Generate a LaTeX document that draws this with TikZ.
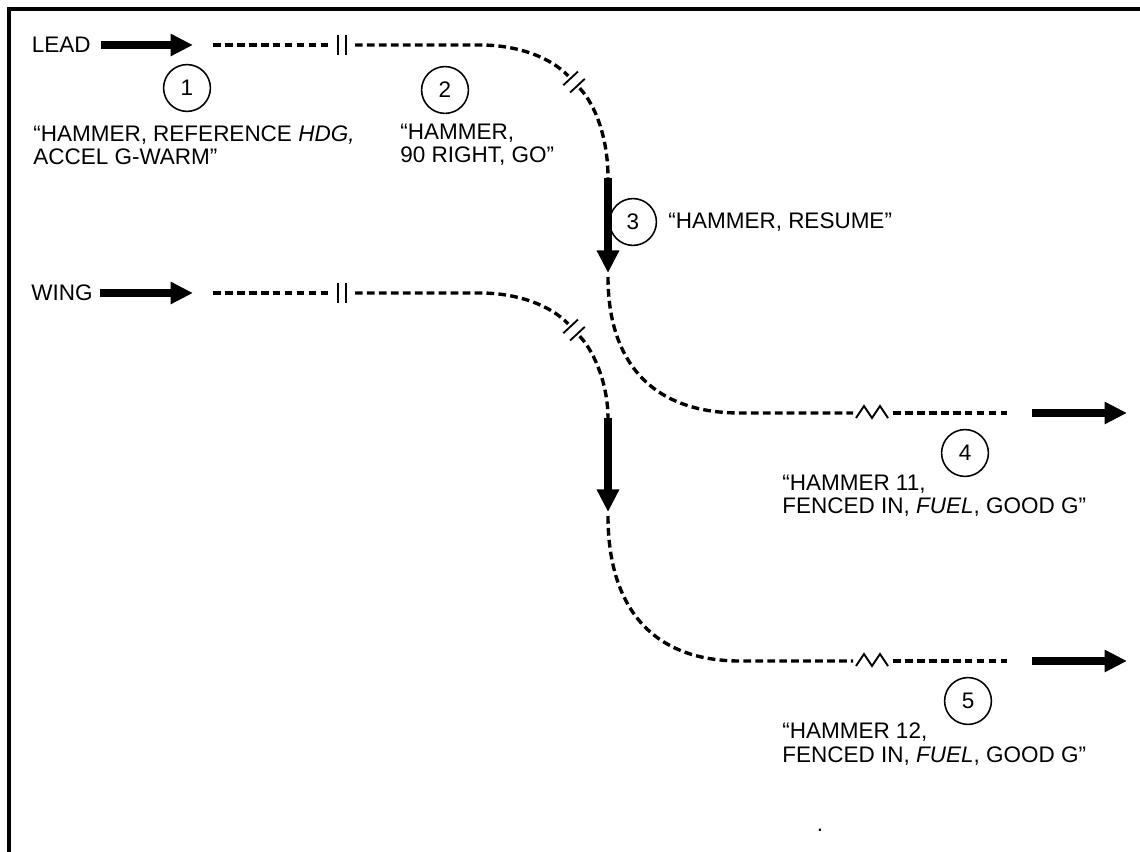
\documentclass[tikz,border=0pt]{standalone}
\usepackage{fontspec}
\setmainfont{Liberation Sans}
\usetikzlibrary{arrows.meta}

\begin{document}
\begin{tikzpicture}[
    x=0.025cm, y=-0.025cm,
    font=\fontsize{16}{16.5}\selectfont,
    flight/.style={inner sep=0pt},
    call/.style={circle, draw, line width=1.1pt, minimum size=1.17cm, inner sep=0pt},
    msg/.style={align=left, anchor=west, inner sep=0pt},
    fat/.style={-{Triangle[length=16pt,width=15pt]}, line width=5.5pt},
    track/.style={line width=2.4pt, dash pattern=on 5.5pt off 3pt},
    brk/.style={line width=1.3pt}
]
\useasboundingbox (0,0) rectangle (1140,852);

% frame (top and left only)
\draw[line width=3pt] (9,852) -- (9,9) -- (1140,9);

% Lead
\node[flight, anchor=east] (lead) at (91,45) {LEAD};
\coordinate (la) at (193,45);
\draw[fat, shorten <=7pt] (lead.east) -- (la);
\coordinate (ld1) at (213,45);
\coordinate (ld2) at (330,45);
\draw[track] (ld1) -- (ld2);
\draw[brk] (338,35) -- (338,55);
\draw[brk] (346,35) -- (346,55);
\coordinate (ld3) at (355,45);
\coordinate (ld4) at (480,45);
\coordinate (lm) at (574,82);
\coordinate (ld5) at (608,178);
\draw[track, shorten >=6pt] (ld3) -- (ld4) .. controls (520,45) and (552,58.75) .. (lm);
\draw[track, shorten <=6pt] (lm) .. controls (596,105.75) and (608,139) .. (ld5);
\draw[brk] (563.3,85.2) -- (577.9,71.6);
\draw[brk] (570.1,92.5) -- (584.7,78.9);
\coordinate (ld6) at (608,273);
\draw[fat] (ld5) -- (ld6);
\coordinate (ld7) at (608,277);
\coordinate (ld8) at (740,413);
\coordinate (ld9) at (853,413);
\draw[track] (ld7) .. controls (608,360) and (650,413) .. (ld8) -- (ld9);
\draw[brk] (856,418) -- (864,406) -- (872,418) -- (880,406) -- (888,418);
\coordinate (ld10) at (893,413);
\coordinate (ld11) at (1007,413);
\draw[track] (ld10) -- (ld11);
\coordinate (ld12) at (1032,413);
\coordinate (ld13) at (1127,413);
\draw[fat] (ld12) -- (ld13);

% Wing
\node[flight, anchor=east] (wing) at (93,293) {WING};
\coordinate (wa) at (193,293);
\draw[fat, shorten <=5pt] (wing.east) -- (wa);
\coordinate (wd1) at (213,293);
\coordinate (wd2) at (330,293);
\draw[track] (wd1) -- (wd2);
\draw[brk] (338,283) -- (338,303);
\draw[brk] (346,283) -- (346,303);
\coordinate (wd3) at (355,293);
\coordinate (wd4) at (480,293);
\coordinate (wm) at (574,330);
\coordinate (wd5) at (608,418);
\draw[track, shorten >=6pt] (wd3) -- (wd4) .. controls (520,293) and (552,306.75) .. (wm);
\draw[track, shorten <=6pt] (wm) .. controls (596,353.75) and (608,387) .. (wd5);
\draw[brk] (563.3,333.2) -- (577.9,319.6);
\draw[brk] (570.1,340.5) -- (584.7,326.9);
\coordinate (wd6) at (608,512);
\draw[fat] (wd5) -- (wd6);
\coordinate (wd7) at (608,516);
\coordinate (wd8) at (740,661);
\coordinate (wd9) at (853,661);
\draw[track] (wd7) .. controls (608,605) and (650,661) .. (wd8) -- (wd9);
\draw[brk] (856,666) -- (864,654) -- (872,666) -- (880,654) -- (888,666);
\coordinate (wd10) at (893,661);
\coordinate (wd11) at (1007,661);
\draw[track] (wd10) -- (wd11);
\coordinate (wd12) at (1032,661);
\coordinate (wd13) at (1127,661);
\draw[fat] (wd12) -- (wd13);

% Radio calls
\node[call] (c1) at (187,88) {1};
\node[msg] (m1) at (33,145) {“HAMMER, REFERENCE \textit{HDG,}\\ACCEL G-WARM”};
\node[call] (c2) at (445,90) {2};
\node[msg] (m2) at (400,145) {“HAMMER,\\90 RIGHT, GO”};
\node[call] (c3) at (633,222) {3};
\node[msg] (m3) at (668,222) {“HAMMER, RESUME”};
\node[call] (c4) at (965,453) {4};
\node[msg] (m4) at (782,496) {“HAMMER 11,\\FENCED IN, \textit{FUEL}, GOOD G”};
\node[call] (c5) at (968,701) {5};
\node[msg] (m5) at (782,744) {“HAMMER 12,\\FENCED IN, \textit{FUEL}, GOOD G”};

\node[inner sep=0pt] (dot) at (820,830) {.};

\end{tikzpicture}
\end{document}
